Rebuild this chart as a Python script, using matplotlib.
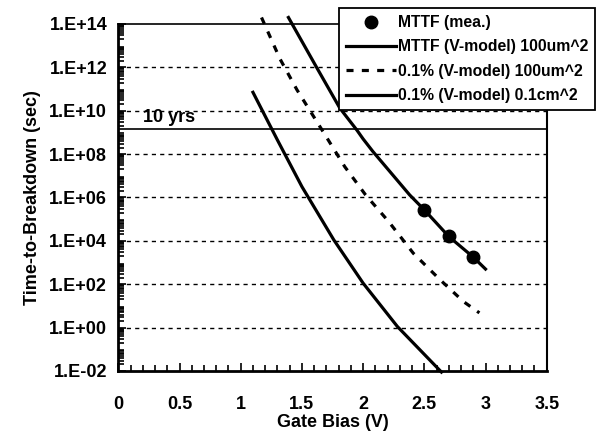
import numpy as np
import matplotlib
matplotlib.use("Agg")
import matplotlib.pyplot as plt
from matplotlib.ticker import FixedLocator, LogLocator, NullFormatter, MultipleLocator

plt.rcParams['font.family'] = ['Liberation Sans', 'DejaVu Sans']
plt.rcParams['font.weight'] = 'bold'

# measured MTTF points
mea_v = [2.5, 2.7, 2.9]
mea_t = [2.7e5, 1.6e4, 1.9e3]

# MTTF (V-model) 100um^2  (log10 of seconds)
mttf_v = [1.39, 1.62, 1.81, 1.95, 2.0, 2.08, 2.38, 2.5, 2.7, 2.9, 3.0]
mttf_log = [14.3, 12.0, 10.12, 9.1, 8.7, 8.12, 6.12, 5.43, 4.2, 3.25, 2.7]

# 0.1% (V-model) 100um^2
p100_v = [1.17, 1.32, 1.46, 1.69, 1.85, 2.02, 2.21, 2.41, 2.63, 2.82, 2.95]
p100_log = [14.3, 12.4, 10.96, 8.88, 7.42, 6.12, 4.88, 3.43, 2.2, 1.2, 0.68]

# 0.1% (V-model) 0.1cm^2
pcm_v = [1.1, 1.3, 1.5, 1.76, 2.0, 2.28, 2.64]
pcm_log = [10.85, 8.65, 6.5, 4.05, 2.05, 0.05, -2.05]

ten_years = 1.5e9
xticks = [0, 0.5, 1, 1.5, 2, 2.5, 3, 3.5]
xlabels = ['0', '0.5', '1', '1.5', '2', '2.5', '3', '3.5']
yticks = [1e-2, 1e0, 1e2, 1e4, 1e6, 1e8, 1e10, 1e12, 1e14]
ylabels = ['1.E-02', '1.E+00', '1.E+02', '1.E+04', '1.E+06', '1.E+08',
           '1.E+10', '1.E+12', '1.E+14']

fig = plt.figure(figsize=(5.96, 4.33), dpi=100)
ax = fig.add_axes([0.1985, 0.1432, 0.7188, 0.8014])

ax.set_yscale('log')
ax.set_xlim(0, 3.5)
ax.set_ylim(1e-2, 1e14)

for y in yticks[1:-1]:
    ax.axhline(y, color='black', lw=1.0, ls=(0, (3, 3)), zorder=1)
ax.axhline(ten_years, color='black', lw=1.2, zorder=1)
ax.text(0.2, 5e9, '10 yrs', fontsize=13, fontweight='bold', va='center')

ax.plot(mttf_v, 10.0 ** np.array(mttf_log), color='black', lw=2.3,
        clip_on=False, label='MTTF (V-model) 100um^2', zorder=3)
ax.plot(p100_v, 10.0 ** np.array(p100_log), color='black', lw=2.3,
        ls=(0, (2.2, 2.6)), clip_on=False,
        label='0.1% (V-model) 100um^2', zorder=3)
ax.plot(pcm_v, 10.0 ** np.array(pcm_log), color='black', lw=2.3,
        clip_on=False, label='0.1% (V-model) 0.1cm^2', zorder=3)
ax.plot(mea_v, mea_t, 'o', color='black', ms=9, label='MTTF (mea.)', zorder=4)

ax.yaxis.set_major_locator(FixedLocator(yticks))
ax.set_yticklabels(ylabels)
ax.yaxis.set_minor_locator(LogLocator(base=10, subs=np.arange(2, 10), numticks=40))
ax.yaxis.set_minor_formatter(NullFormatter())
ax.xaxis.set_major_locator(FixedLocator(xticks))
ax.set_xticklabels(xlabels)
ax.xaxis.set_minor_locator(MultipleLocator(0.1))

ax.tick_params(which='both', direction='in', labelsize=13, width=1.2)
ax.tick_params(axis='y', which='major', length=6, pad=8)
ax.tick_params(axis='x', which='major', length=6, pad=18)
ax.tick_params(which='minor', length=4)
for lbl in ax.get_xticklabels() + ax.get_yticklabels():
    lbl.set_fontweight('bold')

ax.spines['left'].set_linewidth(2)
ax.spines['bottom'].set_linewidth(2)
ax.spines['top'].set_linewidth(1.2)
ax.spines['right'].set_linewidth(1.5)

ax.set_xlabel('Gate Bias (V)', fontsize=13, fontweight='bold', labelpad=1)
ax.set_ylabel('Time-to-Breakdown (sec)', fontsize=13, fontweight='bold', labelpad=6)

h, l = ax.get_legend_handles_labels()
order = [3, 0, 1, 2]
leg = fig.legend([h[i] for i in order], [l[i] for i in order],
                 loc='upper left', bbox_to_anchor=(0.569, 0.9815),
                 borderaxespad=0, fontsize=11.3, frameon=True, fancybox=False,
                 framealpha=1, edgecolor='black', handlelength=3.2,
                 handletextpad=0.1, labelspacing=0.6, borderpad=0.45)
leg.get_frame().set_linewidth(1.3)
for t in leg.get_texts():
    t.set_fontweight('bold')

fig.savefig('out.png', dpi=100)
